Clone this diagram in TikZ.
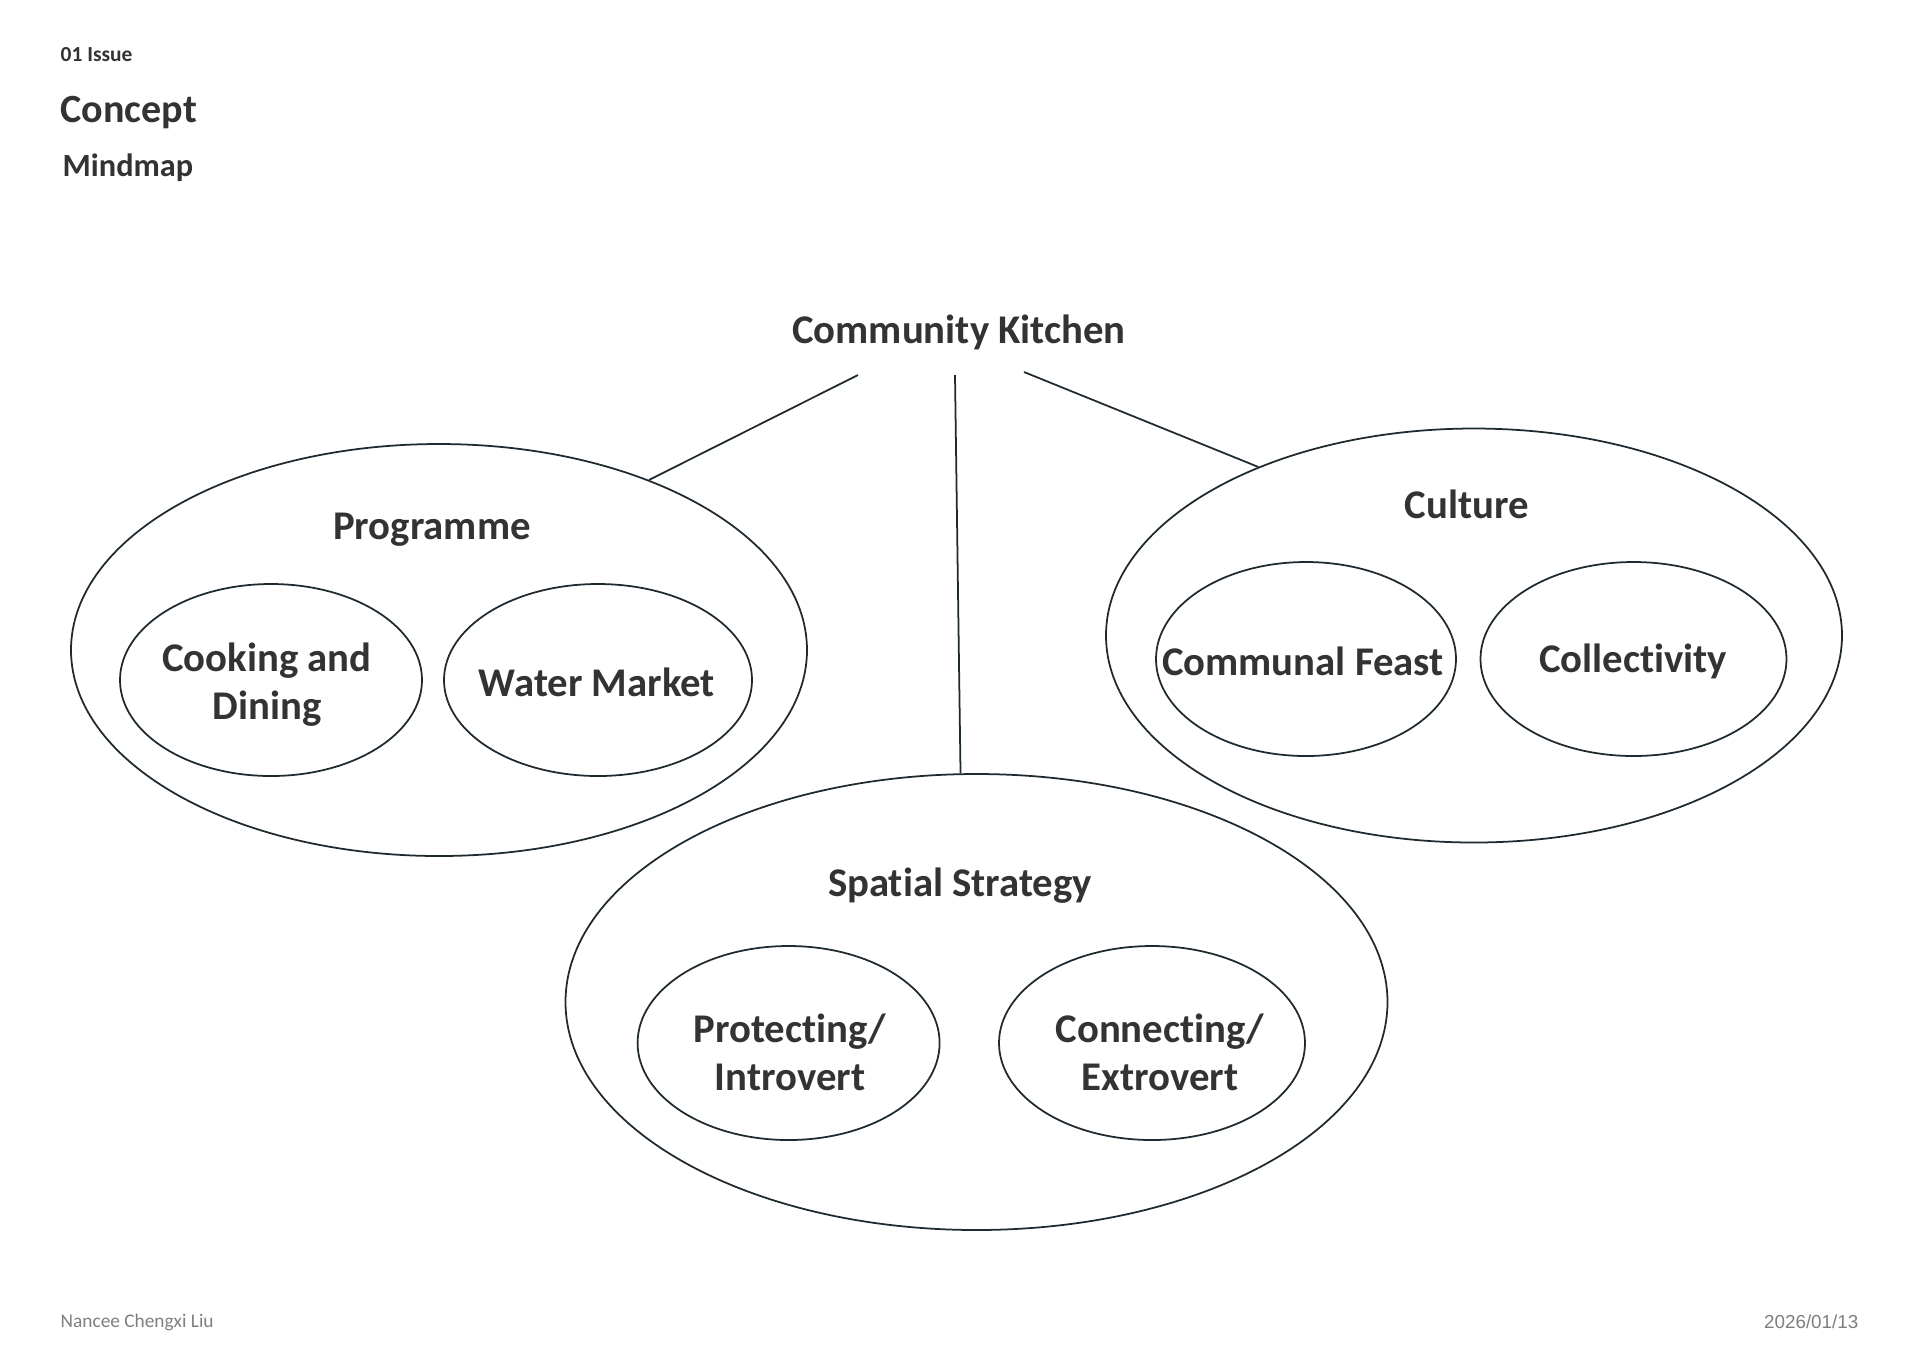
\documentclass[tikz,border=0pt]{standalone}
\usepackage{fontspec}
\setmainfont[Ligatures=NoCommon]{Carlito}
\newfontfamily\datefont{Liberation Sans}
\usetikzlibrary{positioning,shapes.geometric}
\definecolor{mapInk}{HTML}{333333}
\definecolor{mapLine}{HTML}{1E2A30}
\definecolor{mapGray}{HTML}{7F7F7F}
\tikzset{
  every picture/.style={text=mapInk},
  map ring/.style={ellipse, draw=mapLine, line width=0.5pt, inner sep=0pt},
  map label/.style={align=center, inner sep=0pt,
    font=\bfseries\fontsize{11.6}{13.7}\selectfont},
  map link/.style={draw=mapLine, line width=0.5pt},
  map head/.style={anchor=west, inner sep=0pt},
  map foot/.style={inner sep=0pt, text=mapGray}
}

\begin{document}
\begin{tikzpicture}[x=0.1mm,y=-0.1mm]
  \useasboundingbox[fill=white] (0,0) rectangle (1920,1357);
  % header
  \node[map head, font=\bfseries\fontsize{6.1}{7}\selectfont] (issue) at (60,55) {01 Issue};
  \node[map head, font=\bfseries\fontsize{11.4}{13}\selectfont] (concept) at (60,112) {Concept};
  \node[map head, font=\bfseries\fontsize{9.2}{11}\selectfont] (mindmap) at (62,168) {Mindmap};
  % centre
  \node[map label] (kitchen) at (959,332) {Community Kitchen};
  \coordinate (ck-l) at (858,375); \coordinate (ck-m) at (955,375); \coordinate (ck-r) at (1024,372);
  % groups
  \node[map ring, minimum width=73.6mm, minimum height=41.2mm] (prog) at (439,650) {};
  \node[map ring, minimum width=73.6mm, minimum height=41.4mm] (cult) at (1474,635.5) {};
  \node[map ring, minimum width=82.2mm, minimum height=45.6mm] (spat) at (976.5,1002) {};
  \node[map label] (prog-t) at (432,530) {Programme};
  \node[map label] (cult-t) at (1467,504) {Culture};
  \node[map label] (spat-t) at (960,886) {Spatial Strategy};
  % topics
  \node[map ring, minimum width=30.2mm, minimum height=19.2mm] (cook) at (271,680) {};
  \node[map ring, minimum width=30.8mm, minimum height=19.2mm] (water) at (598,680) {};
  \node[map ring, minimum width=30mm, minimum height=19.4mm] (feast) at (1306,659) {};
  \node[map ring, minimum width=30.6mm, minimum height=19.4mm] (coll) at (1633.5,659) {};
  \node[map ring, minimum width=30.2mm, minimum height=19.4mm] (prot) at (788.6,1043) {};
  \node[map ring, minimum width=30.6mm, minimum height=19.4mm] (conn) at (1152,1043) {};
  \node[map label] (cook-t) at (267,685) {Cooking and\\Dining};
  \node[map label] (water-t) at (597,682) {Water Market};
  \node[map label] (feast-t) at (1303,661) {Communal Feast};
  \node[map label] (coll-t) at (1633,661) {Collectivity};
  \node[map label] (prot-t) at (790,1052) {Protecting/\\Introvert};
  \node[map label] (conn-t) at (1160,1052) {Connecting/\\Extrovert};
  % links
  \draw[map link] (ck-l) -- (prog.39);
  \draw[map link] (ck-m) -- (spat.94);
  \draw[map link] (ck-r) -- (cult.142);
  % footer
  \node[map foot, anchor=west, font=\fontsize{5.5}{6.6}\selectfont] (author) at (60,1322) {Nancee Chengxi Liu};
  \node[map foot, anchor=east, font=\datefont\fontsize{5.35}{6.4}\selectfont] (date) at (1859,1322) {2026/01/13};
\end{tikzpicture}
\end{document}
